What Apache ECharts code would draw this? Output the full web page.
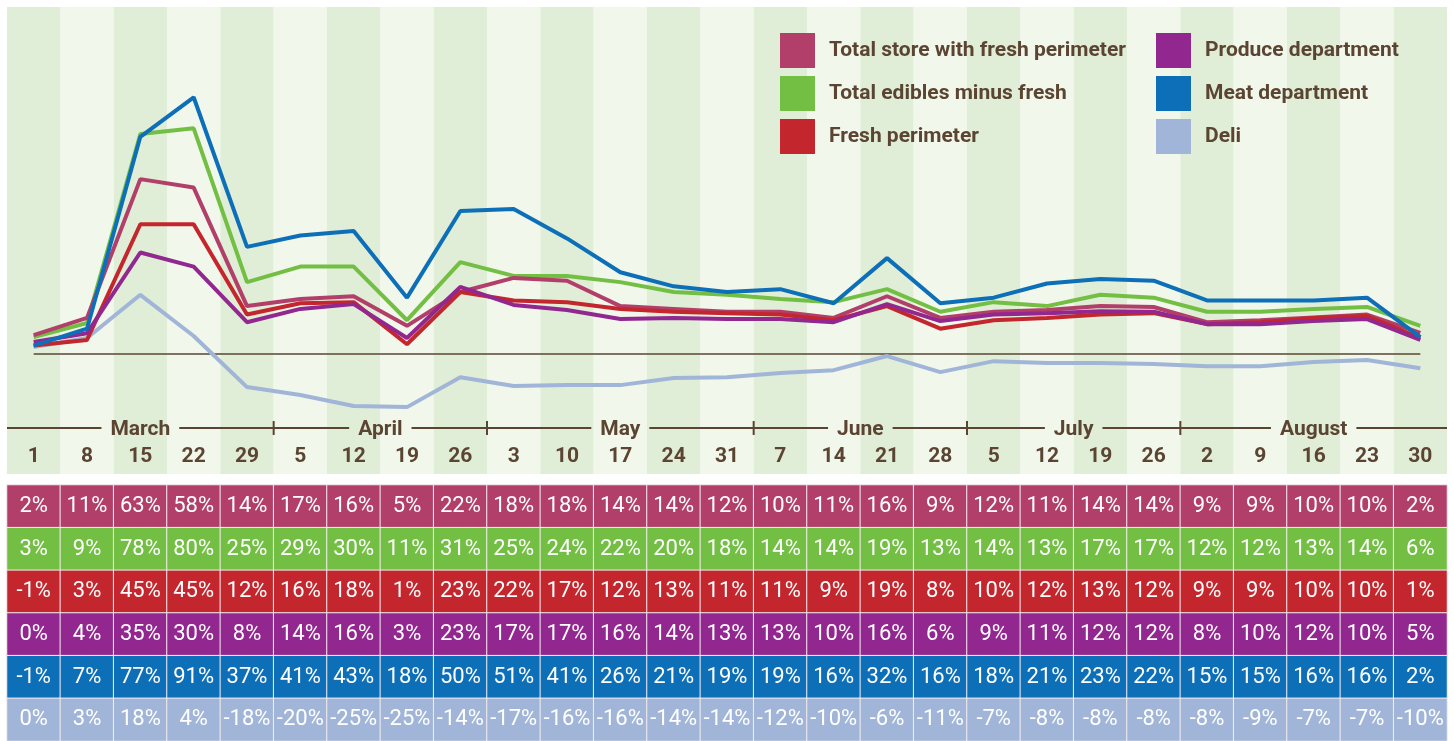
<!DOCTYPE html>
<html>
<head>
<meta charset="utf-8">
<script src="https://cdn.jsdelivr.net/npm/echarts@6/dist/echarts.min.js"></script>
<style>
  html, body { margin: 0; padding: 0; background: #ffffff; }
  #chart { width: 1454px; height: 741px; }
</style>
</head>
<body>
<div id="chart"></div>
<script>
// week-ending dates
const weeks = ['1', '8', '15', '22', '29', '5', '12', '19', '26', '3', '10', '17', '24', '31',
  '7', '14', '21', '28', '5', '12', '19', '26', '2', '9', '16', '23', '30'];

// months and the week indexes they cover
const months = ['March', 'April', 'May', 'June', 'July', 'August'];
const monthFirstWeek = [0, 5, 9, 14, 18, 22];
const monthLastWeek = [4, 8, 13, 17, 21, 26];

const seriesNames = ['Total store with fresh perimeter', 'Total edibles minus fresh', 'Fresh perimeter',
  'Produce department', 'Meat department', 'Deli'];
const seriesColors = ['#b23f69', '#72bf44', '#c4262d', '#92278f', '#0d6fb8', '#a1b5d8'];

// table values (%)
const totalStoreTable = [2, 11, 63, 58, 14, 17, 16, 5, 22, 18, 18, 14, 14, 12, 10, 11, 16, 9, 12, 11, 14, 14, 9, 9, 10, 10, 2];
const ediblesTable = [3, 9, 78, 80, 25, 29, 30, 11, 31, 25, 24, 22, 20, 18, 14, 14, 19, 13, 14, 13, 17, 17, 12, 12, 13, 14, 6];
const freshTable = [-1, 3, 45, 45, 12, 16, 18, 1, 23, 22, 17, 12, 13, 11, 11, 9, 19, 8, 10, 12, 13, 12, 9, 9, 10, 10, 1];
const produceTable = [0, 4, 35, 30, 8, 14, 16, 3, 23, 17, 17, 16, 14, 13, 13, 10, 16, 6, 9, 11, 12, 12, 8, 10, 12, 10, 5];
const meatTable = [-1, 7, 77, 91, 37, 41, 43, 18, 50, 51, 41, 26, 21, 19, 19, 16, 32, 16, 18, 21, 23, 22, 15, 15, 16, 16, 2];
const deliTable = [0, 3, 18, 4, -18, -20, -25, -25, -14, -17, -16, -16, -14, -14, -12, -10, -6, -11, -7, -8, -8, -8, -8, -9, -7, -7, -10];

// plotted lines (%)
const totalStoreLine = [6.7, 12.8, 62, 59, 17, 19.5, 20.5, 10, 22, 27, 26, 17, 16, 15, 15, 12.8, 20.5, 12.8, 15, 15.6, 17, 16.7, 11.3, 12, 13, 14, 7.5];
const ediblesLine = [6, 11, 78, 80, 25.5, 31, 31, 12, 32.6, 27.7, 27.7, 25.5, 22, 21, 19.5, 18.4, 23, 15, 18.4, 17, 21, 20, 15, 15, 16, 16.7, 10];
const freshLine = [3, 5, 46, 46, 14, 18, 18.4, 3.5, 22, 19, 18.4, 16, 15, 14.5, 14, 12, 17, 9, 12, 12.8, 14, 14.5, 10.6, 11.3, 12.8, 13.5, 5.7];
const produceLine = [4.3, 7.4, 36, 31, 11.3, 16, 17.7, 5.7, 23.8, 17.4, 15.6, 12.4, 12.8, 12.4, 12.4, 11.3, 17.7, 11.7, 14, 14.5, 15.2, 15, 10.6, 10.6, 11.7, 12.4, 5];
const meatLine = [3, 9, 77, 91, 38, 42, 43.6, 20, 50.7, 51.4, 41, 29, 24, 22, 23, 18, 34, 18, 20, 25, 26.6, 26, 19, 19, 19, 20, 6];
const deliLine = [2.5, 5.7, 21, 6.4, -11.7, -14.5, -18.4, -18.8, -8.2, -11.3, -11, -11, -8.5, -8.2, -6.7, -5.7, -0.7, -6.4, -2.5, -3.2, -3.2, -3.5, -4.3, -4.3, -2.8, -2.1, -5];

const BROWN = '#5b4532';
const BOLD_FONT = 'Roboto';

const tableRows = [totalStoreTable, ediblesTable, freshTable, produceTable, meatTable, deliTable];
const lineRows = [totalStoreLine, ediblesLine, freshLine, produceLine, meatLine, deliLine];

// measure month label widths so the month rule can break around them
const measureCtx = document.createElement('canvas').getContext('2d');
measureCtx.font = 'bold 21px ' + BOLD_FONT;
function textWidth(s) {
  return measureCtx.measureText(s).width;
}

function renderMonth(params, api) {
  const i = params.dataIndex;
  const band = api.size([1, 0])[0];
  const x0 = api.coord([api.value(0), 0])[0] - band / 2;
  const x1 = api.coord([api.value(2), 0])[0] + band / 2;
  const cs = params.coordSys;
  const y = cs.y + cs.height - 46;
  const name = months[i];
  const half = textWidth(name) / 2 + 9;
  const cx = (x0 + x1) / 2;
  const lineStyle = { stroke: BROWN, lineWidth: 2 };
  const children = [
    { type: 'line', shape: { x1: x0, y1: y, x2: cx - half, y2: y }, style: lineStyle },
    { type: 'line', shape: { x1: cx + half, y1: y, x2: x1, y2: y }, style: lineStyle },
    {
      type: 'text',
      style: {
        text: name, x: cx, y: y + 2,
        align: 'center', verticalAlign: 'middle',
        textAlign: 'center', textVerticalAlign: 'middle',
        fontSize: 21, fontWeight: 'bold', fontFamily: BOLD_FONT, fill: BROWN
      }
    }
  ];
  if (i > 0) {
    children.push({ type: 'line', shape: { x1: x0, y1: y - 7, x2: x0, y2: y + 7 }, style: lineStyle });
  }
  return { type: 'group', children: children };
}

const chart = echarts.init(document.getElementById('chart'));

const lineSeries = seriesNames.map((name, r) => ({
  name: name,
  type: 'line',
  xAxisIndex: 0,
  yAxisIndex: 0,
  data: lineRows[r],
  color: seriesColors[r],
  symbol: 'none',
  lineStyle: { width: 4, color: seriesColors[r] },
  z: 3,
  silent: true
}));

// draw order: deli, green, pink, red, purple, blue
const drawOrder = [5, 1, 0, 2, 3, 4];
const orderedLines = drawOrder.map(r => lineSeries[r]);

// zero rule
orderedLines[0].markLine = {
  silent: true,
  symbol: 'none',
  label: { show: false },
  lineStyle: { color: BROWN, width: 1.5, type: 'solid' },
  data: [[{ coord: [0, 0] }, { coord: [26, 0] }]],
  z: 1
};

const tableData = [];
tableRows.forEach((row, r) => {
  row.forEach((v, c) => {
    tableData.push({ value: [c, r, v], itemStyle: { color: seriesColors[r] } });
  });
});

const legendText = {
  color: BROWN,
  fontSize: 21,
  fontWeight: 'bold',
  fontFamily: BOLD_FONT,
  padding: [0, 0, 0, 9]
};

const option = {
  backgroundColor: '#ffffff',
  animation: false,
  grid: [
    { left: 7, right: 7, top: 7, bottom: 267 },
    { left: 7, right: 7, top: 485, bottom: 0 }
  ],
  legend: [
    {
      data: seriesNames.slice(0, 3),
      orient: 'vertical',
      left: 780, top: 33,
      padding: 0,
      icon: 'rect',
      itemWidth: 35, itemHeight: 35, itemGap: 8,
      textStyle: legendText,
      selectedMode: false
    },
    {
      data: seriesNames.slice(3),
      orient: 'vertical',
      left: 1156, top: 33,
      padding: 0,
      icon: 'rect',
      itemWidth: 35, itemHeight: 35, itemGap: 8,
      textStyle: legendText,
      selectedMode: false
    }
  ],
  xAxis: [
    {
      type: 'category',
      gridIndex: 0,
      data: weeks,
      boundaryGap: true,
      axisLine: { show: false },
      axisTick: { show: false },
      axisLabel: {
        interval: 0, inside: true, margin: 17,
        verticalAlign: 'middle',
        color: BROWN, fontSize: 21, fontWeight: 'bold', fontFamily: BOLD_FONT
      },
      splitLine: { show: false },
      splitArea: { show: true, interval: 0, areaStyle: { color: ['#e0eed7', '#f1f7eb'] } }
    },
    {
      type: 'category',
      gridIndex: 1,
      data: weeks,
      show: false
    }
  ],
  yAxis: [
    {
      type: 'value',
      gridIndex: 0,
      min: -42.5,
      max: 123,
      show: false,
      splitLine: { show: false }
    },
    {
      type: 'category',
      gridIndex: 1,
      data: seriesNames,
      inverse: true,
      show: false
    }
  ],
  graphic: [
    {
      type: 'text',
      left: 14,
      top: 398,
      style: { text: 'W.E.', fontSize: 21, fontWeight: 'bold', fontFamily: BOLD_FONT, fill: BROWN }
    }
  ],
  series: orderedLines.concat([
    {
      name: 'months',
      type: 'custom',
      xAxisIndex: 0,
      yAxisIndex: 0,
      data: months.map((m, i) => [monthFirstWeek[i], 0, monthLastWeek[i]]),
      encode: { x: 0, y: 1 },
      renderItem: renderMonth,
      silent: true,
      z: 4
    },
    {
      name: 'table',
      type: 'heatmap',
      xAxisIndex: 1,
      yAxisIndex: 1,
      data: tableData,
      silent: true,
      itemStyle: { borderColor: '#f4eef1', borderWidth: 1 },
      label: {
        show: true,
        color: '#ffffff',
        fontSize: 22,
        fontFamily: 'Roboto',
        formatter: p => p.value[2] + '%'
      },
      emphasis: { disabled: true }
    }
  ])
};

chart.setOption(option);
</script>
</body>
</html>
